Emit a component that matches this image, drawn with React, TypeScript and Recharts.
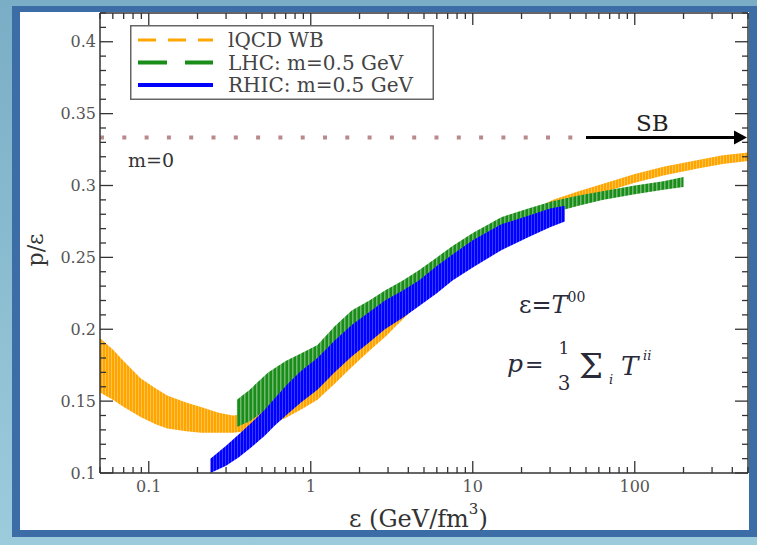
import React from "react";
import { Area, ComposedChart, Legend, ReferenceLine, XAxis, YAxis } from "recharts";

// lQCD WB band (energy density in GeV/fm^3, p/eps low and high)
const lqcdE = [0.05, 0.06, 0.07, 0.089, 0.11, 0.13, 0.17, 0.21, 0.27, 0.33, 0.4, 0.5, 0.69, 0.9, 1.1, 1.4, 1.8, 2.3, 2.9, 3.7, 4.65, 6, 7.5, 10, 15, 22, 31, 45, 63, 100, 150, 250, 350, 500];
const lqcdLo = [0.156, 0.151, 0.146, 0.139, 0.134, 0.131, 0.129, 0.128, 0.128, 0.128, 0.129, 0.132, 0.138, 0.145, 0.151, 0.162, 0.174, 0.185, 0.195, 0.207, 0.218, 0.229, 0.24, 0.25, 0.262, 0.273, 0.283, 0.29, 0.295, 0.302, 0.307, 0.312, 0.315, 0.317];
const lqcdHi = [0.194, 0.186, 0.178, 0.166, 0.159, 0.154, 0.149, 0.146, 0.142, 0.14, 0.141, 0.144, 0.15, 0.158, 0.164, 0.175, 0.187, 0.198, 0.207, 0.218, 0.229, 0.24, 0.25, 0.259, 0.271, 0.281, 0.29, 0.296, 0.301, 0.308, 0.313, 0.318, 0.321, 0.323];

// LHC, m=0.5 GeV
const lhcE = [0.35, 0.42, 0.545, 0.7, 0.9, 1.1, 1.4, 1.79, 2.3, 2.87, 3.7, 4.65, 6, 7.5, 10, 15, 22, 31, 45, 63, 100, 150, 200];
const lhcLo = [0.132, 0.136, 0.145, 0.152, 0.158, 0.164, 0.178, 0.19, 0.198, 0.206, 0.214, 0.222, 0.231, 0.24, 0.25, 0.263, 0.273, 0.281, 0.286, 0.29, 0.294, 0.297, 0.299];
const lhcHi = [0.151, 0.158, 0.17, 0.178, 0.184, 0.189, 0.202, 0.213, 0.22, 0.227, 0.234, 0.241, 0.25, 0.258, 0.267, 0.278, 0.284, 0.289, 0.293, 0.296, 0.3, 0.303, 0.306];

// RHIC, m=0.5 GeV
const rhicE = [0.24, 0.3, 0.36, 0.43, 0.52, 0.6, 0.72, 0.87, 1.1, 1.4, 1.79, 2.3, 2.87, 3.7, 4.65, 6, 7.5, 10, 15, 22, 30, 37];
const rhicLo = [0.1, 0.105, 0.111, 0.118, 0.126, 0.133, 0.141, 0.149, 0.158, 0.17, 0.181, 0.191, 0.2, 0.208, 0.216, 0.225, 0.234, 0.243, 0.255, 0.264, 0.271, 0.275];
const rhicHi = [0.11, 0.119, 0.127, 0.135, 0.144, 0.152, 0.162, 0.171, 0.18, 0.192, 0.203, 0.212, 0.22, 0.227, 0.234, 0.244, 0.252, 0.262, 0.273, 0.279, 0.284, 0.286];

const xMajor = [0.1, 1, 10, 100];
const xMinor = [0.05, 0.06, 0.07, 0.08, 0.09, 0.2, 0.3, 0.4, 0.5, 0.6, 0.7, 0.8, 0.9, 2, 3, 4, 5, 6, 7, 8, 9, 20, 30, 40, 50, 60, 70, 80, 90, 200, 300, 400, 500];
const yMajor = [0.1, 0.15, 0.2, 0.25, 0.3, 0.35, 0.4];
const yMinor = [0.11, 0.12, 0.13, 0.14, 0.16, 0.17, 0.18, 0.19, 0.21, 0.22, 0.23, 0.24, 0.26, 0.27, 0.28, 0.29, 0.31, 0.32, 0.33, 0.34, 0.36, 0.37, 0.38, 0.39, 0.41, 0.42];

const sbLevel = 1 / 3;
const sbStart = 50;

const legendItems = [
  { name: "lQCD WB", color: "#ffa500", dash: "18 12", width: 3 },
  { name: "LHC: m=0.5 GeV", color: "#1a8c1a", dash: "29 18", width: 4 },
  { name: "RHIC: m=0.5 GeV", color: "#0000ff", dash: undefined, width: 4 },
];

const band = (e: number[], lo: number[], hi: number[]) => e.map((x, i) => ({ e: x, range: [lo[i], hi[i]] }));

const lqcd = band(lqcdE, lqcdLo, lqcdHi);
const lhc = band(lhcE, lhcLo, lhcHi);
const rhic = band(rhicE, rhicLo, rhicHi);

const xTicks = [...xMinor, ...xMajor].sort((a, b) => a - b);
const yTicks = [...yMajor, ...yMinor].sort((a, b) => a - b);

const serif = "'DejaVu Serif', serif";
const tickColor = "#555";
const axisColor = "#333";
const inkColor = "#2a2a3a";

const BottomTick = (p: any) => {
  const major = xMajor.includes(p.payload.value);
  return (
    <g>
      <line x1={p.x} x2={p.x} y1={p.y} y2={p.y - (major ? 12 : 6)} stroke={axisColor} strokeWidth={1.3} />
      {major && (
        <text x={p.x} y={p.y + 19} textAnchor="middle" fontSize={16} fontFamily={serif} fill={tickColor}>
          {String(p.payload.value)}
        </text>
      )}
    </g>
  );
};

const TopTick = (p: any) => {
  const major = xMajor.includes(p.payload.value);
  return <line x1={p.x} x2={p.x} y1={p.y} y2={p.y + (major ? 12 : 6)} stroke={axisColor} strokeWidth={1.3} />;
};

const LeftTick = (p: any) => {
  const major = yMajor.includes(p.payload.value);
  return (
    <g>
      <line x1={p.x} x2={p.x + (major ? 13 : 6)} y1={p.y} y2={p.y} stroke={axisColor} strokeWidth={1.3} />
      {major && (
        <text x={p.x - 4} y={p.y + 5.5} textAnchor="end" fontSize={16} fontFamily={serif} fill={tickColor}>
          {String(p.payload.value)}
        </text>
      )}
    </g>
  );
};

const RightTick = (p: any) => {
  const major = yMajor.includes(p.payload.value);
  return <line x1={p.x} x2={p.x - (major ? 13 : 6)} y1={p.y} y2={p.y} stroke={axisColor} strokeWidth={1.3} />;
};

const SbArrow = (p: any) => (
  <g>
    <line x1={p.x1} y1={p.y1} x2={p.x2 - 10} y2={p.y2} stroke="#000" strokeWidth={3} />
    <path d={`M${p.x2 - 14},${p.y2 - 7} L${p.x2 - 1},${p.y2} L${p.x2 - 14},${p.y2 + 7} Z`} fill="#000" />
  </g>
);

const LegendBox = () => (
  <svg width={304} height={75}>
    <rect x={0.75} y={0.75} width={302.5} height={73.5} fill="#fff" stroke="#666" strokeWidth={1.5} />
    {legendItems.map((it, i) => (
      <g key={it.name}>
        <line x1={8} x2={83} y1={15 + i * 22.5} y2={15 + i * 22.5} stroke={it.color} strokeWidth={it.width} strokeDasharray={it.dash} />
        <text x={98} y={22 + i * 22.5} fontSize={20} fontFamily={serif} fill="#444">
          {it.name}
        </text>
      </g>
    ))}
  </svg>
);

export default function App() {
  return (
    <div style={{ position: "absolute", left: 0, top: 0, width: 757, height: 545, background: "linear-gradient(180deg, #7aaec6 0%, #9ccbdc 100%)" }}>
      <div style={{ position: "absolute", left: 12, top: 6, width: 745, height: 531, background: "#3c6da6" }} />
      <div style={{ position: "absolute", left: 20, top: 12, width: 729, height: 518, background: "#fff" }} />
      <div style={{ position: "absolute", left: 0, top: 0 }}>
        <ComposedChart width={757} height={545} margin={{ top: 12, right: 8, bottom: 0, left: 0 }}>
          <defs>
            <pattern id="hatchOrange" width={3} height={10} patternUnits="userSpaceOnUse">
              <rect width={3} height={10} fill="#ffa500" />
              <rect width={1} height={10} fill="#ffc24f" />
            </pattern>
            <pattern id="hatchGreen" width={4} height={10} patternUnits="userSpaceOnUse">
              <rect width={4} height={10} fill="#1a8c1a" />
              <rect width={1.5} height={10} fill="#6fb86f" />
            </pattern>
            <pattern id="hatchBlue" width={3} height={10} patternUnits="userSpaceOnUse">
              <rect width={3} height={10} fill="#0000ff" />
              <rect width={1} height={10} fill="#3a3aff" />
            </pattern>
          </defs>
          <XAxis
            xAxisId="bottom"
            dataKey="e"
            type="number"
            scale="log"
            domain={[0.05, 500]}
            allowDataOverflow
            ticks={xTicks}
            interval={0}
            height={72}
            tickSize={0}
            tickMargin={0}
            tick={BottomTick}
            stroke={axisColor}
            strokeWidth={1.5}
          />
          <XAxis
            xAxisId="top"
            orientation="top"
            dataKey="e"
            type="number"
            scale="log"
            domain={[0.05, 500]}
            allowDataOverflow
            ticks={xTicks}
            interval={0}
            height={1}
            tickSize={0}
            tickMargin={0}
            tick={TopTick}
            stroke={axisColor}
            strokeWidth={1.5}
          />
          <YAxis
            yAxisId="left"
            type="number"
            domain={[0.1, 0.42]}
            allowDataOverflow
            ticks={yTicks}
            interval={0}
            width={100}
            tickSize={0}
            tickMargin={0}
            tick={LeftTick}
            stroke={axisColor}
            strokeWidth={1.5}
          />
          <YAxis
            yAxisId="right"
            orientation="right"
            type="number"
            domain={[0.1, 0.42]}
            allowDataOverflow
            ticks={yTicks}
            interval={0}
            width={1}
            tickSize={0}
            tickMargin={0}
            tick={RightTick}
            stroke={axisColor}
            strokeWidth={1.5}
          />
          <Area xAxisId="bottom" yAxisId="left" data={lqcd} dataKey="range" type="linear" stroke="none" fill="url(#hatchOrange)" fillOpacity={1} isAnimationActive={false} />
          <Area xAxisId="bottom" yAxisId="left" data={lhc} dataKey="range" type="linear" stroke="none" fill="url(#hatchGreen)" fillOpacity={1} isAnimationActive={false} />
          <Area xAxisId="bottom" yAxisId="left" data={rhic} dataKey="range" type="linear" stroke="none" fill="url(#hatchBlue)" fillOpacity={1} isAnimationActive={false} />
          <ReferenceLine
            xAxisId="bottom"
            yAxisId="left"
            segment={[{ x: 0.05, y: sbLevel }, { x: sbStart, y: sbLevel }]}
            stroke="#b98a8a"
            strokeWidth={4}
            strokeDasharray="4 18.3"
          />
          <ReferenceLine
            xAxisId="bottom"
            yAxisId="left"
            segment={[{ x: sbStart, y: sbLevel }, { x: 500, y: sbLevel }]}
            shape={SbArrow}
          />
          <Legend
            layout="horizontal"
            verticalAlign="middle"
            align="center"
            content={LegendBox}
            wrapperStyle={{ left: 130, top: 25, width: 304, height: 75 }}
          />
        </ComposedChart>
      </div>
      <svg width={757} height={545} style={{ position: "absolute", left: 0, top: 0, pointerEvents: "none" }} fontFamily={serif}>
        <text x={128} y={167} fontSize={19} fill="#333">m=0</text>
        <text x={636} y={131} fontSize={23} fill="#222">SB</text>
        <text x={519} y={313} fontSize={24} fill={inkColor}>
          ε=<tspan fontStyle="italic">T</tspan>
          <tspan dy={-11} fontSize={14}>00</tspan>
        </text>
        <text x={507} y={372} fontSize={25} fontStyle="italic" fill={inkColor}>p</text>
        <text x={525} y={372} fontSize={22} fill={inkColor}>=</text>
        <text x={564} y={354} fontSize={17} textAnchor="middle" fill={inkColor}>1</text>
        <text x={564} y={390} fontSize={20} textAnchor="middle" fill={inkColor}>3</text>
        <text x={579} y={378} fontSize={34} fill={inkColor}>Σ</text>
        <text x={609} y={384} fontSize={13} fontStyle="italic" fill={inkColor}>i</text>
        <text x={621} y={375} fontSize={26} fontStyle="italic" fill={inkColor}>T</text>
        <text x={643} y={360} fontSize={13} fontStyle="italic" fill={inkColor}>ii</text>
        <text x={349} y={527} fontSize={24} fill="#333">
          ε (GeV/fm<tspan dy={-13} fontSize={15}>3</tspan>
          <tspan dy={13}>)</tspan>
        </text>
        <text x={43} y={250} fontSize={22} fill="#333" textAnchor="middle" transform="rotate(-90, 43, 250)">p/ε</text>
      </svg>
    </div>
  );
}
